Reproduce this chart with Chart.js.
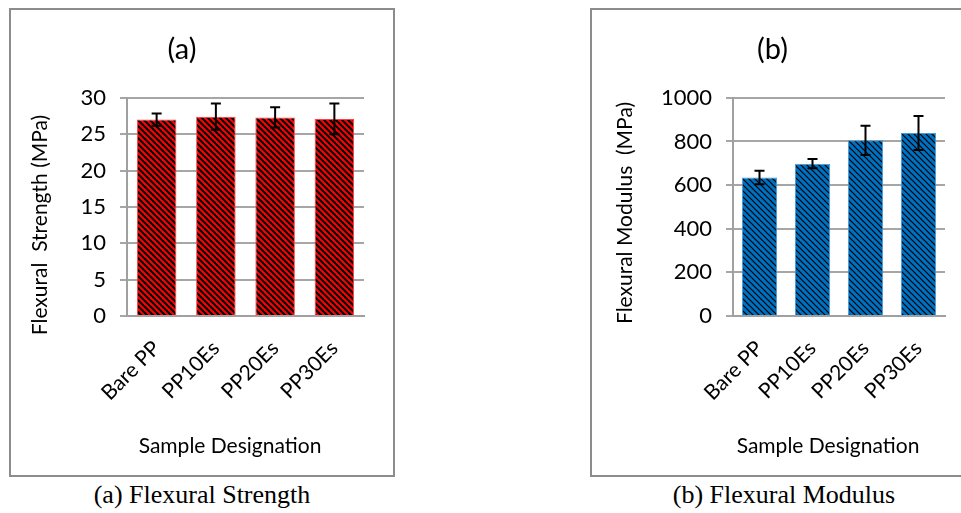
<!DOCTYPE html>
<html>
<head>
<meta charset="utf-8">
<script src="https://cdn.jsdelivr.net/npm/chart.js@4.4.1/dist/chart.umd.min.js"></script>
<style>
  body { margin: 0; background: #fff; width: 961px; height: 513px; overflow: hidden; position: relative; }
  .box { position: absolute; border: 2px solid #8c8c8c; box-sizing: border-box; }
  .wrap { position: absolute; top: 0; }
  .caption { position: absolute; top: 480px; width: 340px; text-align: center;
    font-family: "Liberation Serif", "Times New Roman", serif; font-size: 26px; line-height: 30px; color: #000; }
</style>
</head>
<body>
<div class="box" style="left:9px; top:8px; width:386px; height:469px;"></div>
<div class="box" style="left:590px; top:8px; width:400px; height:469px;"></div>
<div class="wrap" style="left:0; width:393px; height:476px;"><canvas id="chartA"></canvas></div>
<div class="wrap" style="left:600px; width:361px; height:476px;"><canvas id="chartB"></canvas></div>
<div class="caption" style="left:32px;">(a) Flexural Strength</div>
<div class="caption" style="left:614px;">(b) Flexural Modulus</div>

<script>
const categories = ["Bare PP", "PP10Es", "PP20Es", "PP30Es"];
const strengthValues = [27.0, 27.4, 27.3, 27.1];
const strengthErrors = [0.85, 1.8, 1.4, 2.1];
const modulusValues = [635, 698, 805, 839];
const modulusErrors = [31, 21, 67, 78];

Chart.defaults.font.family = "Lato, 'Open Sans', sans-serif";
Chart.defaults.color = "#000";

function makePattern(base, line, lineWidth) {
  const size = 6;
  const c = document.createElement("canvas");
  c.width = size;
  c.height = size;
  const g = c.getContext("2d");
  g.fillStyle = base;
  g.fillRect(0, 0, size, size);
  g.strokeStyle = line;
  g.lineWidth = lineWidth;
  // "\" stripes, plus the wrapped copies at the corners
  [-size, 0, size].forEach((off) => {
    g.beginPath();
    g.moveTo(off - 1, -1);
    g.lineTo(off + size + 1, size + 1);
    g.stroke();
  });
  return g.createPattern(c, "repeat");
}

// error bars drawn on top of the bars
const errorBars = {
  id: "errorBars",
  afterDatasetsDraw(chart, args, opts) {
    const ctx = chart.ctx;
    const yScale = chart.scales.y;
    const values = chart.data.datasets[0].data;
    ctx.save();
    ctx.strokeStyle = "#000";
    ctx.lineWidth = 2;
    chart.getDatasetMeta(0).data.forEach((bar, i) => {
      const top = yScale.getPixelForValue(values[i] + opts.errors[i]);
      const bot = yScale.getPixelForValue(values[i] - opts.errors[i]);
      ctx.beginPath();
      ctx.moveTo(bar.x, top);
      ctx.lineTo(bar.x, bot);
      ctx.moveTo(bar.x - 5, top);
      ctx.lineTo(bar.x + 5, top);
      ctx.moveTo(bar.x - 5, bot);
      ctx.lineTo(bar.x + 5, bot);
      ctx.stroke();
    });
    ctx.restore();
  },
};

// axis titles placed like the Excel original (not centred on the plot)
const axisTitles = {
  id: "axisTitles",
  afterDraw(chart, args, opts) {
    const ctx = chart.ctx;
    ctx.save();
    ctx.fillStyle = "#000";
    ctx.font = "21px Lato, 'Open Sans', sans-serif";
    ctx.textAlign = "center";
    ctx.textBaseline = "middle";
    ctx.fillText(opts.xText, opts.xPos[0], opts.xPos[1]);
    ctx.translate(opts.yPos[0], opts.yPos[1]);
    ctx.rotate(-Math.PI / 2);
    ctx.fillText(opts.yText, 0, 0);
    ctx.restore();
  },
};

function makeChart(id, cfg) {
  const ctx = document.getElementById(id);
  return new Chart(ctx, {
    type: "bar",
    data: {
      labels: categories,
      datasets: [
        {
          data: cfg.values,
          backgroundColor: cfg.pattern,
          borderColor: cfg.edge,
          borderWidth: 1,
          categoryPercentage: 1,
          barPercentage: 0.667,
        },
      ],
    },
    options: {
      responsive: true,
      maintainAspectRatio: false,
      animation: false,
      layout: { padding: { left: 0, right: cfg.padRight, top: 0, bottom: 0 } },
      plugins: {
        legend: { display: false },
        tooltip: { enabled: false },
        title: {
          display: true,
          text: cfg.title,
          font: { size: 29, weight: "normal", lineHeight: 1.2 },
          color: "#000",
          padding: { top: 32, bottom: 31 },
        },
        errorBars: { errors: cfg.errors },
        axisTitles: cfg.axisTitles,
      },
      scales: {
        x: {
          grid: { display: false },
          border: { display: true, color: "#a0a0a0", width: 2 },
          ticks: {
            minRotation: 45,
            maxRotation: 45,
            padding: 12,
            font: { size: 21 },
            color: "#000",
          },
          afterFit: (scale) => {
            scale.height = 160;
          },
        },
        y: {
          min: 0,
          max: cfg.max,
          grid: { color: "#a6a6a6", lineWidth: 2, tickLength: 7, tickColor: "#a6a6a6" },
          border: { display: true, color: "#a0a0a0", width: 2 },
          ticks: {
            stepSize: cfg.step,
            padding: 14,
            font: { size: 22 },
            color: "#000",
            callback: (value) => String(value),
          },
          afterFit: (scale) => {
            scale.width = cfg.yWidth;
          },
        },
      },
    },
    plugins: [errorBars, axisTitles],
  });
}

function mainEvent() {
  makeChart("chartA", {
    values: strengthValues,
    errors: strengthErrors,
    pattern: makePattern("#ff0000", "#000000", 2.1),
    edge: "#ff4040",
    title: "(a)",
    max: 30,
    step: 5,
    yWidth: 127,
    padRight: 29,
    axisTitles: {
      xText: "Sample Designation",
      xPos: [230, 446],
      yText: "Flexural  Strength (MPa)",
      yPos: [40, 225],
    },
  });

  makeChart("chartB", {
    values: modulusValues,
    errors: modulusErrors,
    pattern: makePattern("#0070c0", "#000000", 1.2),
    edge: "#4a9ad6",
    title: "(b)",
    max: 1000,
    step: 200,
    yWidth: 133,
    padRight: 16,
    axisTitles: {
      xText: "Sample Designation",
      xPos: [228, 446],
      yText: "Flexural Modulus  (MPa)",
      yPos: [25, 213],
    },
  });
}

document.addEventListener("DOMContentLoaded", () => mainEvent());
</script>
</body>
</html>
